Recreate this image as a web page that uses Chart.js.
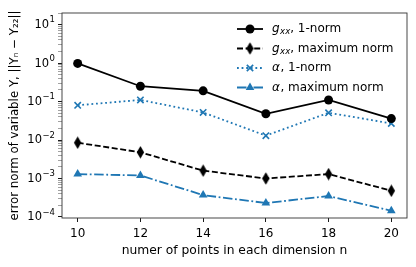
<!DOCTYPE html>
<html>
<head>
<meta charset="utf-8">
<script src="https://cdn.jsdelivr.net/npm/chart.js@4.4.0/dist/chart.umd.min.js"></script>
<style>
  html, body { margin: 0; padding: 0; background: #fff; }
  #wrap { width: 416px; height: 267px; }
</style>
</head>
<body>
<div id="wrap"><canvas id="errChart" width="416" height="267"></canvas></div>
<script>
// values
const nPoints = [10, 12, 14, 16, 18, 20];
const gxxOneNorm = [0.98, 0.25, 0.19, 0.048, 0.11, 0.036];
const gxxMaxNorm = [0.0085, 0.0048, 0.0016, 0.001, 0.0013, 0.00048];
const alphaOneNorm = [0.08, 0.11, 0.052, 0.013, 0.051, 0.027];
const alphaMaxNorm = [0.0013, 0.0012, 0.00037, 0.00023, 0.00035, 0.000145];
const yDecades = [-4, -3, -2, -1, 0, 1];

const FONT = "'DejaVu Sans', sans-serif";
const BLUE = '#1f77b4';

// thin diamond marker like matplotlib 'd'
function thinDiamond(color) {
    const c = document.createElement('canvas');
    c.width = 9; c.height = 13;
    const g = c.getContext('2d');
    g.fillStyle = color;
    g.beginPath();
    g.moveTo(4.5, 0.3); g.lineTo(8.2, 6.5); g.lineTo(4.5, 12.7); g.lineTo(0.8, 6.5);
    g.closePath();
    g.fill();
    return c;
}
const diamond = thinDiamond('#000');

function toPoints(ys) {
    return nPoints.map((x, i) => ({ x: x, y: ys[i] }));
}

const datasets = [
    {
        label: 'gxx, 1-norm',
        parts: [{ t: 'g', it: true }, { t: 'xx', it: true, sub: true }, { t: ', 1-norm' }],
        data: toPoints(gxxOneNorm),
        borderColor: '#000', backgroundColor: '#000',
        borderDash: [],
        pointStyle: 'circle', pointRadius: 4.5, pointBorderWidth: 0
    },
    {
        label: 'gxx, maximum norm',
        parts: [{ t: 'g', it: true }, { t: 'xx', it: true, sub: true }, { t: ', maximum norm' }],
        data: toPoints(gxxMaxNorm),
        borderColor: '#000', backgroundColor: '#000',
        borderDash: [6, 2.6],
        pointStyle: diamond, pointRadius: 5, pointBorderWidth: 0
    },
    {
        label: 'α, 1-norm',
        parts: [{ t: 'α', it: true }, { t: ', 1-norm' }],
        data: toPoints(alphaOneNorm),
        borderColor: BLUE, backgroundColor: BLUE,
        borderDash: [1.8, 2.8],
        pointStyle: 'crossRot', pointRadius: 4.5, pointBorderWidth: 1.6
    },
    {
        label: 'α, maximum norm',
        parts: [{ t: 'α', it: true }, { t: ', maximum norm' }],
        data: toPoints(alphaMaxNorm),
        borderColor: BLUE, backgroundColor: BLUE,
        borderDash: [9.5, 2.6, 1.8, 2.6],
        pointStyle: 'triangle', pointRadius: 5, pointBorderWidth: 0
    }
];
datasets.forEach(d => {
    d.borderWidth = 1.8;
    d.pointBorderColor = d.borderColor;
    d.pointBackgroundColor = d.backgroundColor;
    d.pointHoverRadius = d.pointRadius;
    d.tension = 0;
    d.fill = false;
});

// frame around the plot area, like a matplotlib axes box
const frame = {
    id: 'frame',
    afterDatasetsDraw(chart) {
        const a = chart.chartArea, ctx = chart.ctx;
        ctx.save();
        ctx.strokeStyle = '#333';
        ctx.lineWidth = 0.9;
        ctx.strokeRect(a.left, a.top, a.right - a.left, a.bottom - a.top);
        ctx.restore();
    }
};

// y tick labels with real superscripts (10^k)
const powerLabels = {
    id: 'powerLabels',
    afterDraw(chart) {
        const s = chart.scales.y, ctx = chart.ctx;
        ctx.save();
        ctx.fillStyle = '#000';
        ctx.textBaseline = 'middle';
        ctx.textAlign = 'right';
        yDecades.forEach(k => {
            const y = s.getPixelForValue(Math.pow(10, k));
            const expo = k < 0 ? '−' + (-k) : String(k);
            ctx.font = '8.5px ' + FONT;
            const ew = ctx.measureText(expo).width;
            const right = chart.chartArea.left - 7;
            ctx.fillText(expo, right, y - 4.5);
            ctx.font = '11.5px ' + FONT;
            ctx.fillText('10', right - ew - 0.5, y + 0.5);
        });
        ctx.restore();
    }
};

// legend drawn by hand: line sample with marker, then mixed-font label
const lineLegend = {
    id: 'lineLegend',
    afterDraw(chart) {
        const a = chart.chartArea, ctx = chart.ctx;
        ctx.save();
        chart.data.datasets.forEach((d, i) => {
            const y = a.top + 16 + i * 19.5;
            const x0 = a.right - 170, x1 = a.right - 144;
            ctx.strokeStyle = d.borderColor;
            ctx.fillStyle = d.backgroundColor;
            ctx.lineWidth = d.borderWidth;
            ctx.setLineDash(d.borderDash);
            ctx.beginPath();
            ctx.moveTo(x0, y); ctx.lineTo(x1, y);
            ctx.stroke();
            ctx.setLineDash([]);
            ctx.lineWidth = d.pointBorderWidth || 1;
            Chart.helpers.drawPoint(ctx, {
                pointStyle: d.pointStyle, radius: d.pointRadius,
                rotation: 0, borderWidth: d.pointBorderWidth
            }, (x0 + x1) / 2, y);

            let tx = a.right - 135;
            ctx.fillStyle = '#000';
            ctx.textBaseline = 'middle';
            ctx.textAlign = 'left';
            d.parts.forEach(p => {
                const size = p.sub ? 8.5 : 12;
                ctx.font = (p.it ? 'italic ' : '') + size + 'px ' + FONT;
                ctx.fillText(p.t, tx, y + (p.sub ? 3 : 0));
                tx += ctx.measureText(p.t).width + (p.it && !p.sub ? 0.5 : 0);
            });
        });
        ctx.restore();
    }
};

const ctx = document.getElementById('errChart').getContext('2d');
const errChart = new Chart(ctx, {
    type: 'line',
    data: { datasets },
    options: {
        responsive: false,
        animation: false,
        layout: { padding: { left: 0, right: 9, top: 13, bottom: 0 } },
        plugins: {
            legend: { display: false },
            tooltip: { enabled: false }
        },
        scales: {
            x: {
                type: 'linear',
                min: 9.5,
                max: 20.5,
                afterBuildTicks: (scale) => {
                    scale.ticks = nPoints.map(v => ({ value: v }));
                },
                afterFit: (scale) => { scale.height = 49; },
                border: { display: false },
                grid: {
                    drawOnChartArea: false,
                    drawTicks: true,
                    tickLength: 4,
                    tickColor: '#000',
                    tickWidth: 0.9
                },
                ticks: {
                    color: '#000',
                    padding: 5,
                    maxRotation: 0,
                    font: { family: FONT, size: 12 }
                },
                title: {
                    display: true,
                    text: 'numer of points in each dimension n',
                    color: '#000',
                    padding: { top: 0, bottom: 9 },
                    font: { family: FONT, size: 12.3 }
                }
            },
            y: {
                type: 'logarithmic',
                min: 9.4e-5,
                max: 20,
                afterBuildTicks: (scale) => {
                    const ticks = [];
                    yDecades.forEach(k => {
                        for (let m = 1; m <= 9; m++) {
                            const v = m * Math.pow(10, k);
                            if (v >= scale.min && v <= scale.max) ticks.push({ value: v, major: m === 1 });
                        }
                    });
                    scale.ticks = ticks;
                },
                afterFit: (scale) => { scale.width = 62; },
                border: { display: false },
                grid: {
                    drawOnChartArea: false,
                    drawTicks: true,
                    tickLength: 4,
                    tickColor: (c) => c.tick && c.tick.major ? '#000' : '#444',
                    tickWidth: (c) => c.tick && c.tick.major ? 0.9 : 0.5
                },
                ticks: {
                    color: '#000',
                    padding: 3,
                    autoSkip: false,
                    font: { family: FONT, size: 11.5 },
                    callback: () => ''
                },
                title: {
                    display: true,
                    text: 'error norm of variable Y, ||Yₙ − Y₂₂||',
                    color: '#000',
                    padding: { top: 8, bottom: 0 },
                    font: { family: FONT, size: 11.8 }
                }
            }
        }
    },
    plugins: [frame, powerLabels, lineLegend]
});
</script>
</body>
</html>
